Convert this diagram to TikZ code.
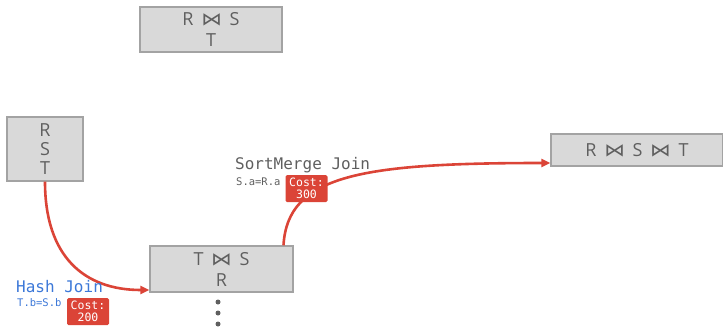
\documentclass[tikz,border=0pt]{standalone}
\usepackage{fontspec}
\usepackage{graphicx}
\setmainfont{Open Sans}
\setmonofont{DejaVu Sans Mono}
\newfontfamily\bowfont{DejaVu Sans}
\usetikzlibrary{arrows.meta,calc}
\definecolor{boxfill}{HTML}{D9D9D9}
\definecolor{boxline}{HTML}{A3A3A3}
\definecolor{boxtext}{HTML}{5F5F5F}
\definecolor{myred}{HTML}{DB4437}
\definecolor{myblue}{HTML}{3C78D8}
\newcommand{\bt}{\hspace{3pt}\scalebox{1.15}[1]{\bowfont\char"22C8}\hspace{3pt}}
\begin{document}
\begin{tikzpicture}[x=1pt,y=-1pt,
  relbox/.style={draw=boxline,fill=boxfill,line width=1.4pt,text=boxtext,
     font=\fontsize{18}{21}\selectfont,align=center,inner sep=0pt},
  costbox/.style={fill=myred,text=white,rounded corners=1.5pt,align=center,
     font=\ttfamily\fontsize{11.5}{12}\selectfont,inner sep=0pt,minimum width=42pt,minimum height=27pt},
  conn/.style={draw=myred,line width=2.6pt,-{Triangle[length=9pt,width=8pt]}},
  dotm/.style={circle,fill=boxtext,inner sep=0pt,minimum size=5pt}]
\useasboundingbox (0,0) rectangle (723,327);
\node[relbox,minimum width=142pt,minimum height=45pt] (top) at (211,29.5) {R \bt\ S\\T};
\node[relbox,minimum width=76pt,minimum height=64pt] (rst) at (45,149) {R\\[-2pt]S\\[-2pt]T};
\node[relbox,minimum width=143pt,minimum height=46pt] (mid) at (221.5,269) {T \bt\ S\\R};
\node[relbox,minimum width=172pt,minimum height=32pt] (fin) at (637,150) {R \bt\ S \bt\ T};
\node[dotm] (d1) at (218,302) {};
\node[dotm] (d2) at (218,313) {};
\node[dotm] (d3) at (218,324) {};
\coordinate (a1e) at ($(mid.west)+(0,21)$);
\coordinate (a2s) at ($(mid.north)+(62,0)$);
\coordinate (a2e) at ($(fin.west)+(0,13)$);
\draw[conn] (rst.south) .. controls +(0,75) and +(-65,0) .. (a1e);
\draw[conn] (a2s) .. controls +(4,-70) and +(-190,0) .. (a2e);
\node[anchor=west,text=myblue,font=\ttfamily\fontsize{16}{18}\selectfont,inner sep=0pt] (hj) at (16,287) {Hash Join};
\node[anchor=west,text=myblue,font=\ttfamily\fontsize{10.5}{12}\selectfont,inner sep=0pt] (hjc) at (17,303) {T.b=S.b};
\node[costbox] (c1) at (88,311.5) {Cost:\\200};
\node[anchor=west,text=boxtext,font=\ttfamily\fontsize{16}{18}\selectfont,inner sep=0pt] (sm) at (235,165) {SortMerge Join};
\node[anchor=west,text=boxtext,font=\ttfamily\fontsize{10.5}{12}\selectfont,inner sep=0pt] (smc) at (236,182) {S.a=R.a};
\node[costbox] (c2) at (306.5,188.5) {Cost:\\300};
\end{tikzpicture}
\end{document}
